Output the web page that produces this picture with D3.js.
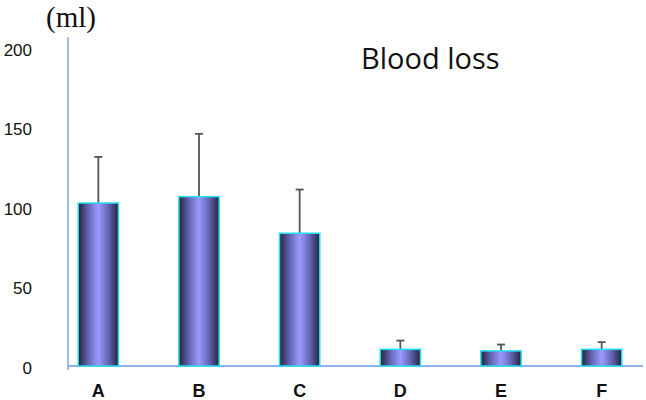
<!DOCTYPE html>
<html><head><meta charset="utf-8">
<script src="https://cdn.jsdelivr.net/npm/d3@7"></script>
<style>body{margin:0;background:#fff}</style>
</head><body>
<svg id="c" width="646" height="400"></svg>
<script>
const categories = ["A","B","C","D","E","F"];
const means = [102.5, 106.5, 83.5, 10.5, 9.5, 10.5];
const errors = [29, 39.5, 27.5, 5.5, 4, 4.5];
const yTicks = [0, 50, 100, 150, 200];

const svg = d3.select("#c");
const x = d3.scaleBand().domain(categories).range([48, 652]).paddingInner(0.6).paddingOuter(0.3);
const y = d3.scaleLinear().domain([0, 200]).range([366, 48]);

const defs = svg.append("defs");
const g = defs.append("linearGradient").attr("id","bg").attr("x1","0").attr("x2","1").attr("y1","0").attr("y2","0");
g.append("stop").attr("offset","0").attr("stop-color","#23233a");
g.append("stop").attr("offset","0.25").attr("stop-color","#6464b4");
g.append("stop").attr("offset","0.5").attr("stop-color","#9a9aff");
g.append("stop").attr("offset","0.75").attr("stop-color","#6464b4");
g.append("stop").attr("offset","1").attr("stop-color","#23233a");

// axes lines
svg.append("line").attr("x1",68).attr("x2",68).attr("y1",37).attr("y2",370).attr("stroke","#6a9ae0").attr("stroke-width",1.3);
svg.append("line").attr("x1",68).attr("x2",643).attr("y1",y(0)).attr("y2",y(0)).attr("stroke","#6a9ae0").attr("stroke-width",1.3);

// y tick labels
svg.selectAll(".yt").data(yTicks).enter().append("text")
  .attr("x",32).attr("y",d=>y(d)+2).attr("dy","0.35em").attr("text-anchor","end")
  .attr("font-family","Liberation Sans, Arial, sans-serif").attr("font-size",17).attr("fill","#111")
  .text(d=>d);

// error bars
const eg = svg.selectAll(".err").data(categories).enter().append("g");
eg.append("line").attr("x1",d=>x(d)+x.bandwidth()/2).attr("x2",d=>x(d)+x.bandwidth()/2)
  .attr("y1",(d,i)=>y(means[i])).attr("y2",(d,i)=>y(means[i]+errors[i]))
  .attr("stroke","#555").attr("stroke-width",1.8);
eg.append("line").attr("x1",d=>x(d)+x.bandwidth()/2-4).attr("x2",d=>x(d)+x.bandwidth()/2+4)
  .attr("y1",(d,i)=>y(means[i]+errors[i])).attr("y2",(d,i)=>y(means[i]+errors[i]))
  .attr("stroke","#555").attr("stroke-width",1.8);

// bars
svg.selectAll(".bar").data(categories).enter().append("rect")
  .attr("x",d=>x(d)).attr("width",x.bandwidth())
  .attr("y",(d,i)=>y(means[i])).attr("height",(d,i)=>y(0)-y(means[i]))
  .attr("fill","url(#bg)").attr("stroke","#22e0ee").attr("stroke-width",1.5);

// x labels
svg.selectAll(".xl").data(categories).enter().append("text")
  .attr("x",d=>x(d)+x.bandwidth()/2).attr("y",397).attr("text-anchor","middle")
  .attr("font-family","Liberation Sans, Arial, sans-serif").attr("font-weight","bold").attr("font-size",18).attr("fill","#111")
  .text(d=>d);

// unit label
svg.append("text").attr("x",46).attr("y",27).attr("font-family","Liberation Serif, Times New Roman, serif")
  .attr("font-size",29).attr("fill","#111").text("(ml)");

// title
svg.append("text").attr("x",361).attr("y",69).attr("font-family","Open Sans, Liberation Sans, sans-serif")
  .attr("font-size",29).attr("fill","#111").text("Blood loss");
</script>
</body></html>
